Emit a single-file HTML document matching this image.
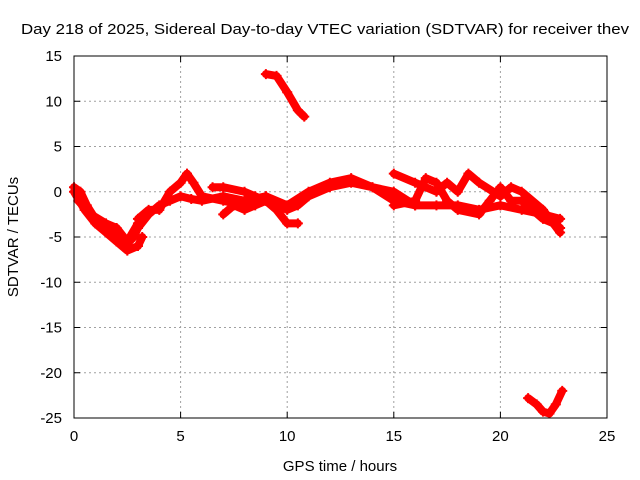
<!DOCTYPE html>
<html><head><meta charset="utf-8"><style>
body{margin:0;background:#fff}
svg{display:block;font-family:"Liberation Sans",sans-serif}
</style></head><body>
<svg id="chart" width="640" height="480">
<text x="325" y="34" text-anchor="middle" font-size="15" textLength="608" lengthAdjust="spacingAndGlyphs">Day 218 of 2025, Sidereal Day-to-day VTEC variation (SDTVAR) for receiver thev</text>
<text x="340" y="471" text-anchor="middle" font-size="15">GPS time / hours</text>
<text transform="translate(18,237) rotate(-90)" text-anchor="middle" font-size="15">SDTVAR / TECUs</text>
<g id="grid"></g>
<g id="series"></g>
<rect x="74" y="56" width="533" height="362" fill="none" stroke="#000"/>
</svg>
<script>
const xTicks=[0,5,10,15,20,25];
const yTicks=[15,10,5,0,-5,-10,-15,-20,-25];
const trace1=[[0,0.5],[0.3,0],[0.6,-1.5],[1,-3],[1.5,-4],[2,-5],[2.4,-6],[2.8,-5],[3,-4],[3.5,-2.5],[4,-1.5],[4.5,-1],[5,-0.5],[5.5,-0.8],[6,-1],[7,-0.5],[8,-1],[9,-0.5],[9.5,-1.5],[10,-2],[10.5,-1.5],[11,-0.5],[12,0.5],[13,1],[14,0.5],[15,-1],[16,-1.5],[17,-1.5],[18,-1.5],[19,-2],[20,-1.5],[21,-2],[22,-2.5],[22.8,-3]];
const trace2=[[0,0],[0.5,-2],[1,-3.5],[1.5,-4.5],[2,-5.5],[2.5,-6.5],[3,-6],[3.2,-5]];
const trace3=[[3,-3],[3.5,-2],[4,-2],[4.5,0],[5,1],[5.3,2],[5.6,1],[6,-0.5],[7,-1],[8,-1.5],[9,-0.5],[10,-1.5],[11,0],[12,1],[13,1.5],[14,0.5],[15,0],[16,-1.5]];
const trace4=[[6.5,0.5],[7,0.5],[8,0],[8.5,-0.5],[9,-1],[9.5,-2],[10,-3.5],[10.5,-3.5]];
const trace5=[[7,-2.5],[7.5,-1.5],[8,-2],[8.5,-1.5],[9,-1]];
const trace6=[[15,2],[16,1],[17,0],[17.5,1],[18,0],[18.5,2],[19,1],[20,-0.5],[20.5,0.5],[21,0],[22,-2],[22.8,-4.5]];
const trace7=[[15,-1.5],[16,-1],[16.5,1.5],[17,1],[17.5,-1],[18,-2],[19,-2.5],[19.5,-1],[20,0.5],[20.5,-1],[21,-1],[21.5,-2],[22,-3],[22.5,-3.5],[22.8,-4]];
const trace8=[[9,13],[9.5,12.8],[10,11],[10.5,9],[10.8,8.3]];
const trace9=[[21.3,-22.8],[21.7,-23.5],[22,-24.3],[22.3,-24.5],[22.6,-23.5],[22.9,-22]];
const trace10=[[0.2,-1],[0.8,-2.5],[1.5,-3.5],[2,-4],[2.5,-5.5],[3,-3.5]];
const traces=[trace1,trace2,trace3,trace4,trace5,trace6,trace7,trace8,trace9,trace10];
const NS="http://www.w3.org/2000/svg";
const X0=74,X1=607,Y0=418,Y1=56;
function sx(v){return X0+(v-0)/(25-0)*(X1-X0);}
function sy(v){return Y0-(v+25)/40*(Y0-Y1);}
function mk(t,a,p){const e=document.createElementNS(NS,t);for(const k in a)e.setAttribute(k,a[k]);p.appendChild(e);return e;}
const g=document.getElementById('grid');
xTicks.forEach(t=>{
  const x=sx(t);
  if(t>0&&t<25){const l=mk('line',{x1:x,x2:x,y1:Y1,y2:Y0,stroke:'#a0a0a0','stroke-dasharray':'2,3'},g);
  
  }
  mk('line',{x1:x,x2:x,y1:Y0,y2:Y0-6,stroke:'#000'},g);
  mk('line',{x1:x,x2:x,y1:Y1,y2:Y1+6,stroke:'#000'},g);
  const tx=mk('text',{x:x,y:Y0+23,'text-anchor':'middle','font-size':15},g);
  tx.textContent=t;
  
  
});
yTicks.forEach(t=>{
  const y=sy(t);
  if(t<15&&t>-25){const l=mk('line',{x1:X0,x2:X1,y1:y,y2:y,stroke:'#a0a0a0','stroke-dasharray':'2,3'},g);
  
  }
  mk('line',{x1:X0,x2:X0+6,y1:y,y2:y,stroke:'#000'},g);
  mk('line',{x1:X1,x2:X1-6,y1:y,y2:y,stroke:'#000'},g);
  const tx=mk('text',{x:X0-12,y:y+5,'text-anchor':'end','font-size':15},g);
  tx.textContent=t;
  
  
});
const s=document.getElementById('series');
traces.forEach((tr,i)=>{
  const pts=tr.map(p=>sx(p[0])+','+sy(p[1])).join(' ');
  const pl=mk('polyline',{points:pts,fill:'none',stroke:'#ff0000','stroke-width':8,'stroke-linejoin':'round','stroke-linecap':'round'},s);
  
  
  tr.forEach(p=>{
    const x=sx(p[0]),y=sy(p[1]);
    const m=mk('path',{d:`M${x-5},${y}H${x+5}M${x},${y-5}V${y+5}`,stroke:'#ff0000','stroke-width':2},s);
    
    
  });
});
</script>
</body></html>
